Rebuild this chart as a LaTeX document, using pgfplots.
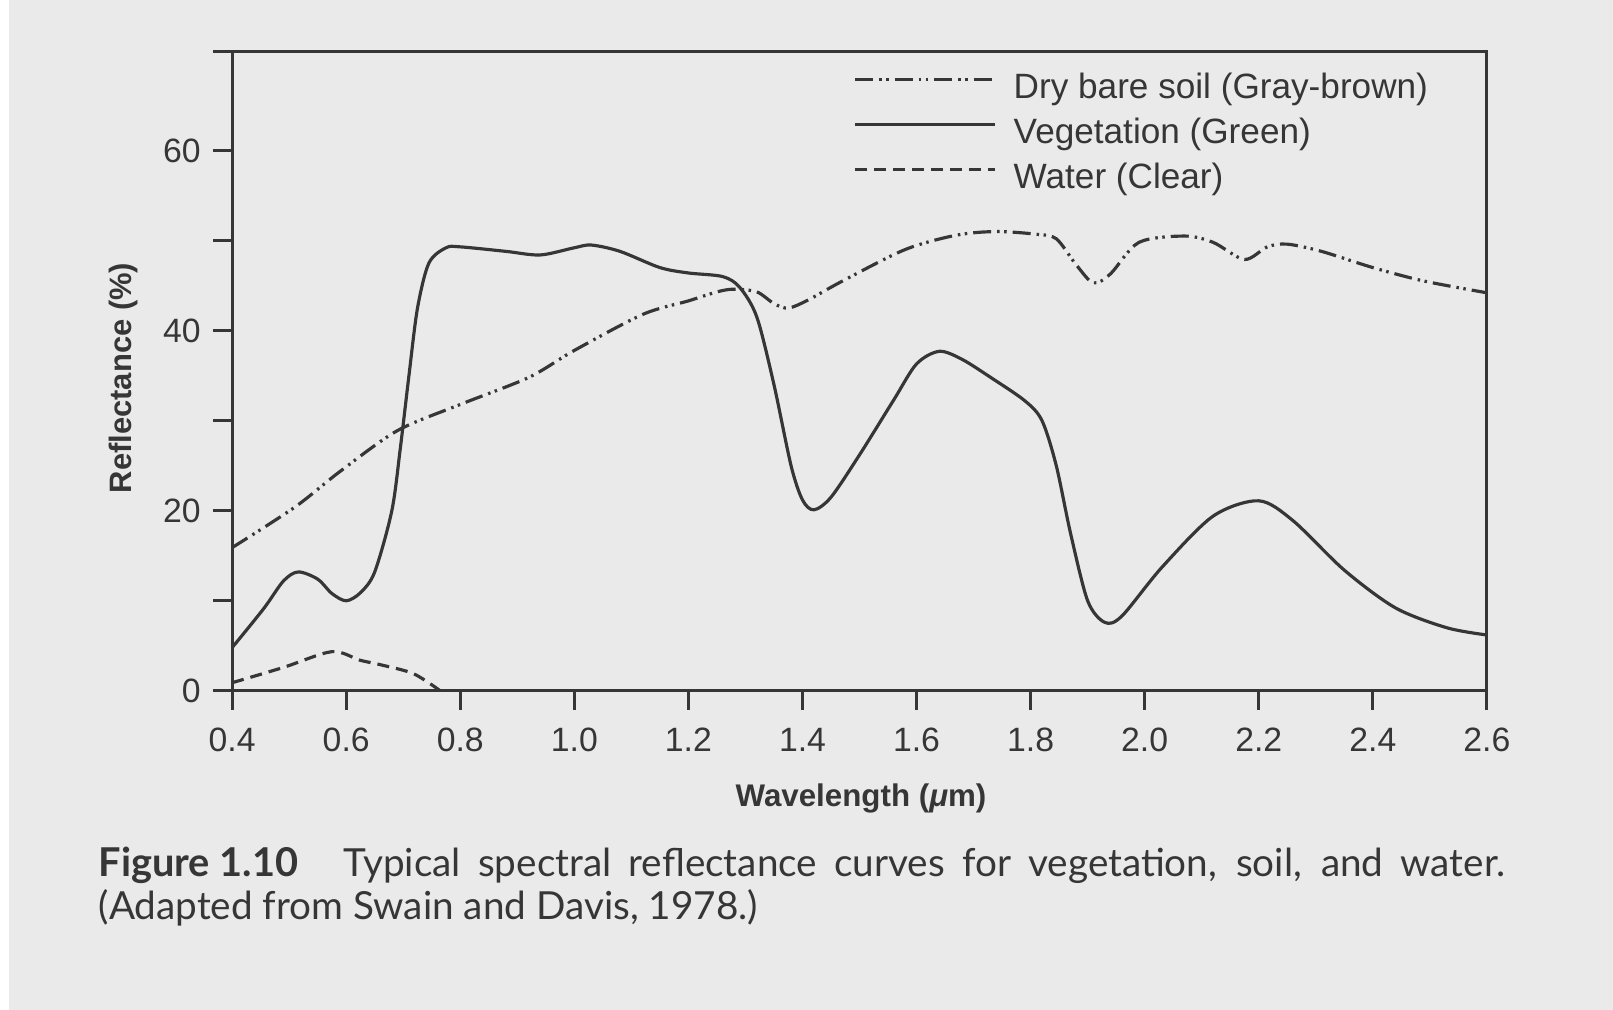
\documentclass[border=0pt]{standalone}
\usepackage{fontspec}
\setmainfont{Liberation Sans}
\newfontfamily\capfont{Lato}
\usepackage{pgfplots}
\pgfplotsset{compat=1.18}

\definecolor{paper}{HTML}{EAEAEA}
\definecolor{ink}{HTML}{363636}

\begin{document}
\begin{tikzpicture}[x=0.01cm,y=0.01cm]
% page, 1613 x 1009 px at 0.01 cm per px
\useasboundingbox (0,0) rectangle (1613,1009);
\fill[paper] (-10,-10) rectangle (1623,1019);
\fill[white] (-10,-10) rectangle (9,1019);

\begin{axis}[
  at={(2.32cm,3.18cm)}, anchor=south west,
  scale only axis, width=12.54cm, height=6.39cm,
  xmin=0.4, xmax=2.6, ymin=0, ymax=71,
  xtick={0.4,0.6,0.8,1.0,1.2,1.4,1.6,1.8,2.0,2.2,2.4,2.6},
  xticklabels={0.4,0.6,0.8,1.0,1.2,1.4,1.6,1.8,2.0,2.2,2.4,2.6},
  ytick={0,10,20,30,40,50,60,71},
  yticklabels={0,,20,,40,,60,},
  tick pos=left, tick align=outside,
  major tick length=0.19cm,
  axis line style={ink, line width=0.9pt},
  every tick/.style={ink, line width=0.9pt},
  tick label style={font=\fontsize{9.6}{11}\selectfont, text=ink},
  xticklabel style={yshift=-0.06cm},
  /pgf/number format/assume math mode=true,
  clip=false, axis on top,
  legend cell align=left,
  legend style={draw=none, fill=none, inner sep=0pt, outer sep=0pt,
    at={(0.4952,0.9655)}, anchor=north west,
    font=\fontsize{10}{12}\selectfont, text=ink,
    nodes={inner sep=0pt, text height=0.25cm, text depth=0.09cm},
    row sep=0.11cm},
  legend image code/.code={\draw[#1] (0cm,0.11cm) -- (1.4cm,0.11cm); \path (1.57cm,0.11cm);},
]
\addplot[ink, line width=0.9pt, smooth, tension=0.5,
  dash pattern=on 1.8mm off 0.6mm on 0.25mm off 0.45mm on 0.25mm off 0.6mm]
  coordinates {(0.40,15.9) (0.51,20.4) (0.59,24.4) (0.69,28.9) (0.80,31.8)
  (0.92,34.8) (1.00,37.8) (1.12,41.8) (1.20,43.3) (1.25,44.3) (1.28,44.6)
  (1.32,44.3) (1.35,43.0) (1.375,42.5) (1.41,43.4) (1.47,45.5) (1.58,49.0)
  (1.67,50.6) (1.74,51.0) (1.81,50.7) (1.845,50.2) (1.88,47.3) (1.91,45.3)
  (1.94,46.3) (1.99,49.8) (2.07,50.5) (2.12,49.8) (2.175,47.9) (2.215,49.3)
  (2.25,49.6) (2.31,48.8) (2.40,47.0) (2.49,45.5) (2.60,44.2)};
\addlegendentry{Dry bare soil (Gray-brown)}
\addplot[ink, line width=0.9pt, smooth, tension=0.5]
  coordinates {(0.40,4.8) (0.455,9.1) (0.49,12.2) (0.516,13.2) (0.55,12.4)
  (0.575,10.8) (0.60,10.0) (0.625,10.9) (0.65,13.2) (0.68,20) (0.695,27)
  (0.71,35) (0.725,42.5) (0.745,47.5) (0.775,49.2) (0.80,49.3) (0.88,48.8)
  (0.94,48.4) (1.00,49.2) (1.03,49.5) (1.08,48.8) (1.15,47.0) (1.20,46.4)
  (1.26,46.0) (1.29,44.8) (1.32,41.5) (1.35,34) (1.38,25) (1.40,21.2)
  (1.42,20.1) (1.45,21.5) (1.50,26.2) (1.56,32.3) (1.60,36.3) (1.64,37.7)
  (1.68,36.8) (1.73,34.8) (1.79,32.2) (1.82,30) (1.845,25) (1.87,17.5)
  (1.90,10) (1.93,7.6) (1.96,8.3) (2.03,13.7) (2.12,19.4) (2.20,21.1)
  (2.26,18.9) (2.35,13.4) (2.44,9.2) (2.53,7.0) (2.60,6.2)};
\addlegendentry{Vegetation (Green)}
\addplot[ink, line width=0.9pt, smooth, tension=0.5,
  dash pattern=on 1.2mm off 0.7mm]
  coordinates {(0.40,0.9) (0.49,2.6) (0.575,4.35) (0.624,3.4) (0.66,2.9)
  (0.718,1.9) (0.765,0)};
\addlegendentry{Water (Clear)}
\end{axis}

% axis titles
\node[text=ink, font=\bfseries\fontsize{8.9}{10}\selectfont] at (861,{1009-798})
  {Wavelength ({\itshape μ}m)};
\node[text=ink, font=\bfseries\fontsize{8.8}{10}\selectfont, rotate=90] at (123,{1009-378})
  {Reflectance (\%)};

% caption
\node[text=ink, anchor=base west, inner sep=0pt,
  font=\capfont\bfseries\fontsize{11.3}{13}\selectfont]
  at (98,{1009-876}) {Figure 1.10};
\node[text=ink, anchor=base west, font=\capfont\fontsize{11}{13}\selectfont, inner sep=0pt]
  at (343,{1009-876})
  {\makebox[11.61cm][s]{Typical spectral reflectance curves for vegetation, soil, and water.}};
\node[text=ink, anchor=base west, font=\capfont\fontsize{11}{13}\selectfont, inner sep=0pt]
  at (98,{1009-919}) {(Adapted from Swain and Davis, 1978.)};
\end{tikzpicture}
\end{document}
